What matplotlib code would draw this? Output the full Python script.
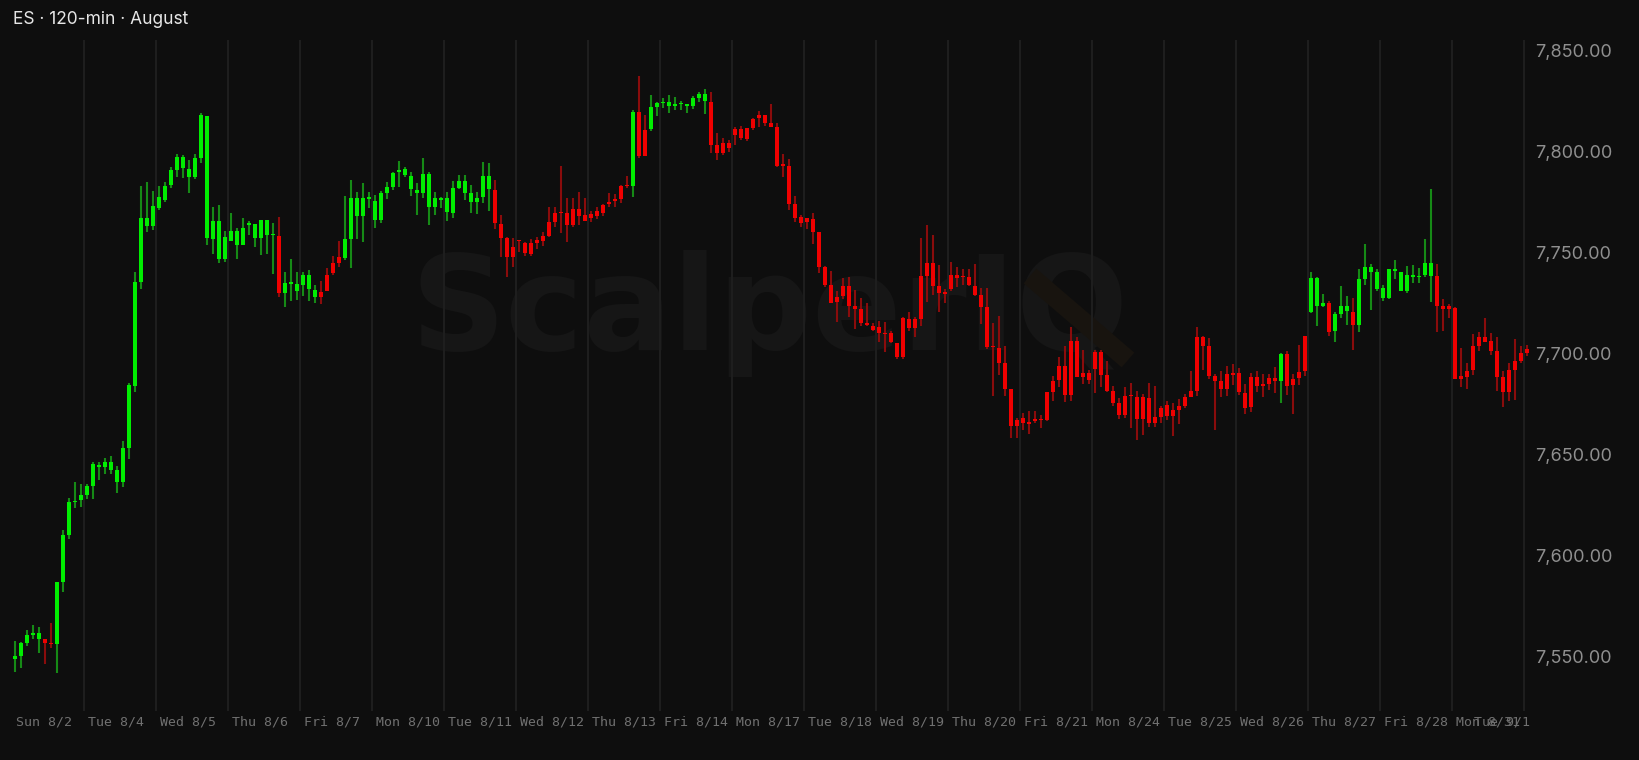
import numpy as np
import matplotlib.pyplot as plt
from matplotlib.transforms import ScaledTranslation

# 120-min bars, ES, August
opens = [
    7548.9, 7550.3, 7556.7, 7560.5, 7558.6, 7558.6, 7556.2, 7556.1, 7586.7, 7610.2, 7626.4, 7627.3,
    7629.8, 7634.2, 7643.6, 7643.6, 7642.4, 7636.2, 7636.2, 7653.3, 7684.0, 7735.4, 7762.8, 7763.2,
    7771.8, 7775.9, 7783.3, 7790.7, 7791.9, 7787.4, 7787.4, 7796.8, 7757.0, 7756.6, 7746.6, 7746.6,
    7755.6, 7753.6, 7753.6, 7763.7, 7757.3, 7757.3, 7758.6, 7758.4, 7758.1, 7730.1, 7734.5, 7730.6,
    7733.9, 7731.7, 7728.1, 7730.2, 7738.8, 7744.6, 7747.6, 7747.4, 7756.6, 7767.7, 7767.7, 7776.4,
    7766.0, 7766.0, 7779.5, 7782.5, 7789.6, 7788.0, 7781.4, 7779.5, 7779.5, 7772.6, 7772.6, 7775.9,
    7769.7, 7769.6, 7782.0, 7779.5, 7775.1, 7775.1, 7777.1, 7781.2, 7780.8, 7764.0, 7756.9, 7752.5,
    7755.7, 7754.8, 7754.5, 7756.1, 7758.1, 7765.2, 7769.3, 7769.4, 7769.3, 7771.3, 7771.3, 7768.5,
    7768.8, 7770.5, 7773.4, 7775.1, 7776.4, 7783.0, 7782.9, 7782.8, 7819.6, 7810.5, 7810.9, 7822.1,
    7823.7, 7822.4, 7822.6, 7823.2, 7822.4, 7822.4, 7826.5, 7825.0, 7824.5, 7803.1, 7803.9, 7804.2,
    7811.0, 7810.8, 7811.3, 7816.0, 7817.9, 7817.9, 7813.8, 7812.2, 7793.0, 7792.9, 7773.9, 7767.5,
    7767.2, 7766.7, 7760.2, 7742.6, 7733.9, 7728.1, 7733.4, 7733.4, 7723.6, 7722.0, 7714.4, 7713.7,
    7712.8, 7709.7, 7709.9, 7705.0, 7717.4, 7716.9, 7716.9, 7738.3, 7744.6, 7744.6, 7733.4, 7729.8,
    7738.8, 7738.8, 7738.3, 7738.0, 7733.5, 7728.9, 7722.7, 7703.1, 7702.5, 7695.1, 7682.3, 7666.8,
    7667.9, 7666.0, 7666.9, 7667.2, 7680.8, 7686.4, 7693.8, 7693.8, 7706.2, 7706.2, 7690.5, 7690.5,
    7700.9, 7700.9, 7689.4, 7681.6, 7675.3, 7679.0, 7679.1, 7678.6, 7678.2, 7677.8, 7668.4, 7672.9,
    7674.5, 7672.0, 7674.0, 7678.6, 7681.4, 7708.0, 7708.0, 7703.4, 7688.8, 7686.4, 7689.7, 7689.7,
    7690.2, 7680.3, 7688.2, 7688.2, 7684.7, 7687.7, 7687.7, 7686.5, 7699.9, 7687.4, 7691.0, 7708.6,
    7720.7, 7723.5, 7723.5, 7724.8, 7711.1, 7719.5, 7721.2, 7720.7, 7714.1, 7736.8, 7740.0, 7731.9,
    7727.6, 7727.6, 7740.5, 7730.6, 7730.6, 7737.7, 7737.7, 7738.8, 7738.5, 7738.3, 7723.2, 7723.5,
    7722.3, 7688.9, 7691.3, 7703.4, 7708.3, 7708.3, 7706.2, 7701.2, 7688.5, 7691.8, 7696.4, 7700.1,
    7702.2,
]
highs = [
    7557.6, 7557.4, 7563.2, 7565.6, 7564.8, 7558.8, 7566.4, 7586.9, 7612.8, 7628.6, 7636.2, 7635.4,
    7635.4, 7646.5, 7646.5, 7648.2, 7649.0, 7644.3, 7656.6, 7685.5, 7740.2, 7782.7, 7784.8, 7780.2,
    7782.8, 7784.6, 7792.4, 7798.6, 7798.1, 7795.7, 7798.5, 7819.1, 7817.4, 7772.3, 7773.3, 7760.6,
    7769.3, 7761.9, 7766.8, 7765.4, 7764.0, 7765.8, 7765.8, 7764.4, 7767.3, 7740.1, 7746.6, 7740.1,
    7740.1, 7741.3, 7733.9, 7735.8, 7742.4, 7748.2, 7755.6, 7777.6, 7785.8, 7780.0, 7784.2, 7780.0,
    7778.4, 7780.5, 7785.0, 7789.9, 7795.0, 7792.4, 7789.6, 7784.5, 7796.7, 7789.9, 7780.0, 7777.2,
    7780.0, 7785.3, 7788.3, 7788.3, 7783.3, 7780.0, 7794.5, 7794.0, 7785.8, 7768.3, 7757.4, 7756.9,
    7756.1, 7755.3, 7756.4, 7757.4, 7760.2, 7772.6, 7772.6, 7792.7, 7776.7, 7776.7, 7780.0, 7776.7,
    7770.5, 7772.6, 7774.0, 7779.2, 7778.7, 7783.3, 7787.8, 7820.4, 7837.2, 7818.0, 7827.8, 7824.5,
    7826.5, 7827.8, 7826.7, 7824.9, 7823.5, 7827.5, 7829.5, 7830.6, 7829.5, 7808.9, 7806.4, 7805.6,
    7812.2, 7812.7, 7811.7, 7816.3, 7819.9, 7817.9, 7823.2, 7813.8, 7798.7, 7796.2, 7777.9, 7768.5,
    7767.2, 7769.3, 7760.2, 7743.4, 7740.8, 7730.6, 7737.2, 7738.0, 7731.4, 7727.3, 7724.8, 7714.9,
    7716.1, 7715.7, 7711.3, 7705.0, 7717.9, 7720.7, 7718.2, 7757.3, 7763.5, 7758.3, 7743.8, 7731.7,
    7745.4, 7742.9, 7741.8, 7741.6, 7744.1, 7732.2, 7732.2, 7714.9, 7718.7, 7703.7, 7682.3, 7667.9,
    7670.4, 7671.7, 7671.7, 7669.6, 7680.8, 7688.9, 7698.4, 7703.7, 7712.8, 7708.3, 7701.7, 7691.8,
    7701.7, 7701.7, 7696.3, 7684.0, 7677.8, 7683.3, 7685.2, 7681.4, 7679.9, 7685.2, 7683.9, 7674.0,
    7676.2, 7675.3, 7677.3, 7679.8, 7691.3, 7712.8, 7708.6, 7707.5, 7689.8, 7691.3, 7693.8, 7694.6,
    7692.6, 7684.7, 7690.5, 7691.5, 7689.7, 7689.7, 7693.5, 7700.4, 7701.2, 7689.7, 7704.2, 7708.6,
    7740.0, 7738.0, 7729.4, 7726.1, 7720.7, 7733.4, 7728.4, 7727.3, 7741.6, 7754.1, 7744.1, 7741.8,
    7733.9, 7741.8, 7746.2, 7740.1, 7743.2, 7743.8, 7742.4, 7756.6, 7781.4, 7744.1, 7726.9, 7724.3,
    7722.8, 7702.5, 7695.4, 7709.5, 7710.8, 7717.4, 7710.0, 7708.0, 7691.3, 7695.1, 7707.2, 7703.7,
    7704.2,
]
lows = [
    7542.2, 7544.3, 7555.3, 7558.8, 7551.6, 7546.4, 7554.5, 7541.7, 7582.0, 7608.1, 7623.3, 7623.9,
    7627.8, 7628.1, 7637.2, 7640.5, 7640.2, 7630.7, 7634.1, 7647.8, 7681.1, 7731.8, 7760.1, 7760.8,
    7770.9, 7774.7, 7782.0, 7787.1, 7786.9, 7779.2, 7786.3, 7794.0, 7753.4, 7749.2, 7744.6, 7745.4,
    7755.6, 7746.9, 7753.6, 7758.3, 7752.8, 7748.7, 7749.2, 7739.1, 7728.1, 7723.1, 7726.0, 7726.4,
    7728.4, 7726.1, 7725.1, 7724.3, 7730.6, 7738.8, 7742.9, 7746.2, 7742.4, 7756.6, 7755.0, 7771.8,
    7761.9, 7764.4, 7776.2, 7780.9, 7782.5, 7787.0, 7777.6, 7768.5, 7776.7, 7763.6, 7768.2, 7771.8,
    7765.5, 7766.8, 7781.2, 7775.9, 7769.6, 7769.0, 7774.3, 7770.6, 7761.4, 7747.5, 7737.6, 7742.9,
    7750.0, 7748.4, 7748.4, 7751.7, 7753.3, 7757.4, 7762.7, 7759.7, 7755.3, 7762.7, 7763.5, 7765.5,
    7765.2, 7766.5, 7768.0, 7772.6, 7772.6, 7774.3, 7781.7, 7777.1, 7796.8, 7797.8, 7810.0, 7817.5,
    7821.6, 7819.1, 7820.4, 7820.4, 7818.8, 7820.9, 7824.2, 7818.3, 7799.0, 7795.4, 7798.2, 7799.8,
    7803.1, 7805.6, 7805.2, 7810.5, 7812.2, 7812.7, 7811.8, 7792.1, 7787.1, 7771.0, 7765.2, 7762.4,
    7761.4, 7754.1, 7739.6, 7733.0, 7725.1, 7715.4, 7727.0, 7717.9, 7712.1, 7713.7, 7713.7, 7711.1,
    7705.8, 7700.9, 7705.0, 7697.1, 7697.1, 7711.3, 7708.3, 7713.6, 7725.3, 7728.9, 7720.7, 7724.8,
    7730.6, 7732.7, 7733.9, 7733.4, 7728.6, 7714.4, 7702.1, 7679.1, 7689.4, 7679.1, 7658.0, 7658.0,
    7662.2, 7660.2, 7665.5, 7663.0, 7666.3, 7676.2, 7683.6, 7675.7, 7676.2, 7688.5, 7684.7, 7684.9,
    7680.6, 7683.6, 7681.1, 7674.0, 7667.6, 7667.9, 7663.3, 7657.2, 7659.7, 7663.5, 7663.5, 7665.4,
    7667.1, 7659.2, 7665.1, 7673.2, 7678.6, 7679.1, 7691.8, 7687.2, 7662.1, 7678.3, 7678.9, 7684.4,
    7679.5, 7669.9, 7671.2, 7681.1, 7678.6, 7681.9, 7680.6, 7675.3, 7679.4, 7670.1, 7684.4, 7689.0,
    7720.2, 7713.3, 7722.7, 7708.8, 7705.8, 7717.7, 7713.8, 7701.7, 7710.8, 7733.9, 7721.5, 7730.9,
    7726.0, 7726.9, 7736.8, 7730.6, 7729.7, 7735.0, 7735.0, 7737.7, 7725.3, 7710.8, 7711.1, 7717.7,
    7687.2, 7683.3, 7682.4, 7689.3, 7701.2, 7705.5, 7699.2, 7681.4, 7673.7, 7676.2, 7677.0, 7695.1,
    7698.9,
]
closes = [
    7550.3, 7556.7, 7560.5, 7561.9, 7561.9, 7556.5, 7556.0, 7586.7, 7610.2, 7626.6, 7626.9, 7630.0,
    7634.2, 7645.3, 7644.8, 7646.1, 7646.3, 7642.2, 7653.3, 7684.3, 7735.4, 7767.1, 7767.1, 7773.1,
    7777.2, 7783.0, 7790.7, 7797.3, 7797.0, 7791.4, 7796.5, 7817.9, 7817.4, 7765.7, 7765.7, 7757.6,
    7760.6, 7760.6, 7762.1, 7764.7, 7764.0, 7765.8, 7765.8, 7758.6, 7730.1, 7735.0, 7734.7, 7734.2,
    7738.8, 7738.8, 7731.4, 7728.1, 7730.6, 7739.6, 7744.9, 7756.6, 7776.7, 7776.7, 7776.7, 7776.6,
    7775.4, 7779.2, 7782.5, 7789.4, 7790.7, 7791.1, 7787.8, 7780.9, 7788.8, 7788.8, 7776.7, 7776.7,
    7776.9, 7782.0, 7785.3, 7785.3, 7779.5, 7776.7, 7787.9, 7787.9, 7764.7, 7757.2, 7747.5, 7747.5,
    7755.6, 7749.5, 7749.2, 7754.5, 7755.6, 7758.1, 7765.2, 7769.2, 7763.5, 7763.5, 7768.0, 7765.5,
    7767.2, 7768.0, 7769.5, 7773.8, 7775.4, 7776.6, 7782.7, 7819.6, 7797.8, 7797.8, 7821.7, 7824.0,
    7824.5, 7824.5, 7822.8, 7823.4, 7823.5, 7826.5, 7828.2, 7828.2, 7803.1, 7799.3, 7799.3, 7801.5,
    7808.1, 7806.4, 7805.9, 7811.7, 7816.3, 7813.8, 7812.2, 7792.9, 7792.8, 7773.9, 7767.2, 7764.4,
    7764.8, 7760.2, 7742.6, 7733.9, 7725.1, 7725.3, 7728.6, 7723.6, 7722.0, 7714.9, 7714.2, 7711.6,
    7710.0, 7709.5, 7705.5, 7698.4, 7698.4, 7712.4, 7712.4, 7716.9, 7738.5, 7733.5, 7730.1, 7729.6,
    7731.7, 7737.5, 7737.7, 7733.9, 7728.9, 7722.8, 7703.0, 7703.0, 7695.1, 7682.3, 7664.1, 7664.1,
    7665.5, 7665.1, 7666.7, 7667.0, 7667.1, 7680.8, 7686.9, 7679.5, 7679.5, 7688.5, 7688.5, 7686.6,
    7692.3, 7689.4, 7681.6, 7675.3, 7669.6, 7669.6, 7678.9, 7667.4, 7667.4, 7665.8, 7665.8, 7668.4,
    7669.2, 7669.2, 7672.0, 7674.0, 7678.6, 7681.6, 7703.7, 7688.8, 7686.5, 7682.3, 7682.3, 7689.5,
    7680.8, 7673.2, 7673.4, 7683.9, 7683.9, 7684.9, 7686.5, 7699.9, 7684.1, 7684.4, 7687.7, 7691.3,
    7737.5, 7737.5, 7724.8, 7710.8, 7719.3, 7723.2, 7723.2, 7714.1, 7736.8, 7742.6, 7742.6, 7740.0,
    7732.2, 7741.6, 7741.8, 7740.1, 7738.8, 7738.8, 7738.5, 7744.9, 7744.9, 7723.2, 7721.8, 7721.8,
    7687.2, 7687.4, 7688.5, 7691.8, 7703.7, 7705.8, 7701.2, 7688.2, 7680.8, 7680.8, 7691.8, 7696.4,
    7700.1,
]

day_labels = ["Sun 8/2", "Tue 8/4", "Wed 8/5", "Thu 8/6", "Fri 8/7", "Mon 8/10", "Tue 8/11",
              "Wed 8/12", "Thu 8/13", "Fri 8/14", "Mon 8/17", "Tue 8/18", "Wed 8/19", "Thu 8/20",
              "Fri 8/21", "Mon 8/24", "Tue 8/25", "Wed 8/26", "Thu 8/27", "Fri 8/28", "Mon 8/31"]
last_label = "Tue 9/1"
bars_per_day = 12
price_ticks = [7550, 7600, 7650, 7700, 7750, 7800, 7850]

BG = '#0e0e0e'
UP, UP_WICK = '#00ee00', '#168a16'
DOWN, DOWN_WICK = '#f00000', '#8a0c0c'

fig = plt.figure(figsize=(16.4, 7.6), dpi=100, facecolor=BG)
ax = fig.add_axes([0, 49 / 760, 1532 / 1640, 671 / 760])
ax.set_facecolor(BG)

o = np.array(opens)
h = np.array(highs)
l = np.array(lows)
c = np.array(closes)
x = np.arange(len(o))
up = c >= o

# day separators
for k in range(1, len(day_labels) + 1):
    ax.axvline(k * bars_per_day - 0.5, color='#1e1e1e', lw=1.5, zorder=1)

# candles
ax.vlines(x, l, h, colors=np.where(up, UP_WICK, DOWN_WICK), lw=1.5, zorder=2)
body_bottom = np.minimum(o, c)
body_height = np.maximum(np.abs(c - o), 0.7)
ax.bar(x, body_height, bottom=body_bottom, width=0.76,
       color=np.where(up, UP, DOWN), linewidth=0, zorder=3)

ax.set_xlim(-2.5, 252.83)
ax.set_ylim(7523.1, 7855.0)

# watermark
ax.text(770 / 1640, 1 - 350 / 760, 'ScalperIQ', transform=fig.transFigure,
        ha='center', va='baseline', fontsize=95, fontweight='bold',
        family='DejaVu Sans', color='#161616', zorder=0)
ax.plot([1030 / 1640, 1128 / 1640], [1 - 276 / 760, 1 - 360 / 760], transform=fig.transFigure,
        color='#18140f', lw=14, solid_capstyle='butt', zorder=0.5)

# x axis labels
ticks = [k * bars_per_day - 0.5 for k in range(len(day_labels))] + [ax.get_xlim()[1]]
ax.set_xticks(ticks, day_labels + [last_label])
ax.tick_params(axis='x', length=0, pad=3, labelsize=9.5, labelcolor='#707070')
xlabels = ax.get_xticklabels()
for lab in xlabels:
    lab.set_family('DejaVu Sans Mono')
    lab.set_horizontalalignment('left')
    lab.set_transform(lab.get_transform() + ScaledTranslation(0.04, 0, fig.dpi_scale_trans))
xlabels[-1].set_horizontalalignment('right')
xlabels[-1].set_transform(xlabels[-1].get_transform()
                          + ScaledTranslation(-0.06, 0, fig.dpi_scale_trans))

# price axis on the right
ax.yaxis.tick_right()
ax.set_yticks(price_ticks, [f'{p:,.2f}' for p in price_ticks])
ax.tick_params(axis='y', length=0, pad=2, labelsize=13, labelcolor='#8f8f8f')
for lab in ax.get_yticklabels():
    lab.set_family('Inter')

for s in ax.spines.values():
    s.set_visible(False)

fig.text(13 / 1640, 1 - 19 / 760, 'ES · 120-min · August', ha='left', va='center',
         fontsize=12.5, family='Inter', color='#e6e6e6')

fig.savefig('out.png', dpi=100, facecolor=BG)
